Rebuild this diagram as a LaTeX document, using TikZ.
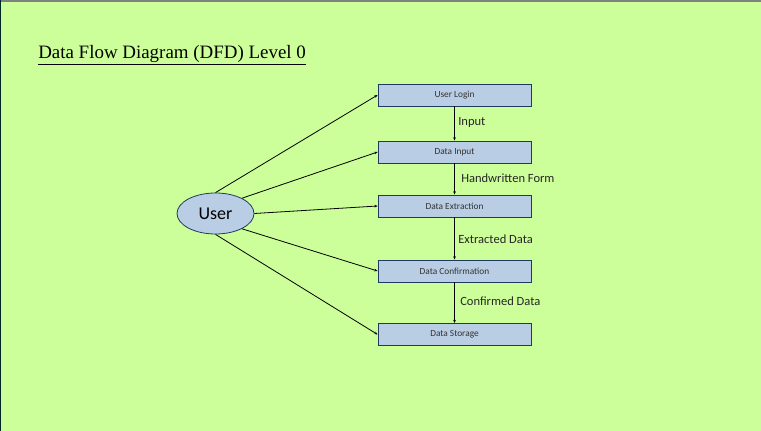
\documentclass[tikz,border=0pt]{standalone}
\usepackage{fontspec}
\setmainfont{Carlito}
\newfontfamily\titlefont{Liberation Serif}
\usetikzlibrary{arrows.meta,shapes.geometric}
\definecolor{bg}{HTML}{CCFF99}
\definecolor{boxfill}{HTML}{B9CDE5}
\definecolor{boxdraw}{HTML}{1F3A5F}
\tikzset{
  x=0.75pt, y=-0.75pt,
  proc/.style={draw=boxdraw, fill=boxfill, line width=0.6pt, minimum width=114.75pt, minimum height=16.5pt, inner sep=0pt, font=\fontsize{7}{8}\selectfont, text=black!80},
  flow/.style={draw=black, line width=0.6pt, -{Stealth[length=2.5pt,width=2pt]}},
  lbl/.style={font=\fontsize{9.4}{11}\selectfont, anchor=west, inner sep=0pt, text=black!85}
}
\begin{document}
\begin{tikzpicture}
\useasboundingbox (0,0) rectangle (761,431);
\fill[bg] (0,0) rectangle (761,431);
\draw[gray, line width=1.2pt] (0,0.8) -- (761,0.8);
\draw[black!70!teal, line width=0.8pt] (0.6,0) -- (0.6,431);
\node[font=\titlefont\fontsize{14.2}{16}\selectfont, anchor=west, inner sep=0pt] (title) at (38,55) {\underline{Data Flow Diagram (DFD) Level 0}};
\node[draw=boxdraw, fill=boxfill, ellipse, line width=0.6pt, minimum width=57.75pt, minimum height=30.75pt, inner sep=0pt, font=\fontsize{13.5}{15}\selectfont] (user) at (215.5,213.5) {User};
\node[proc] (login) at (454.5,95) {User Login};
\node[proc] (input) at (454.5,152) {Data Input};
\node[proc] (extract) at (454.5,206) {Data Extraction};
\node[proc] (confirm) at (454.5,271) {Data Confirmation};
\node[proc] (store) at (454.5,334.5) {Data Storage};
\draw[flow] (user.north) -- (login.west);
\draw[flow] (user.30) -- (input.west);
\draw[flow] (user.east) -- (extract.west);
\draw[flow] (user.-30) -- (confirm.west);
\draw[flow] (user.south) -- (store.west);
\draw[flow] (login) -- (input);
\draw[flow] (input) -- (extract);
\draw[flow] (extract) -- (confirm);
\draw[flow] (confirm) -- (store);
\node[lbl] (l1) at (458,122) {Input};
\node[lbl] (l2) at (461,178) {Handwritten Form};
\node[lbl] (l3) at (458,239.5) {Extracted Data};
\node[lbl] (l4) at (460,301) {Confirmed Data};
\end{tikzpicture}
\end{document}
